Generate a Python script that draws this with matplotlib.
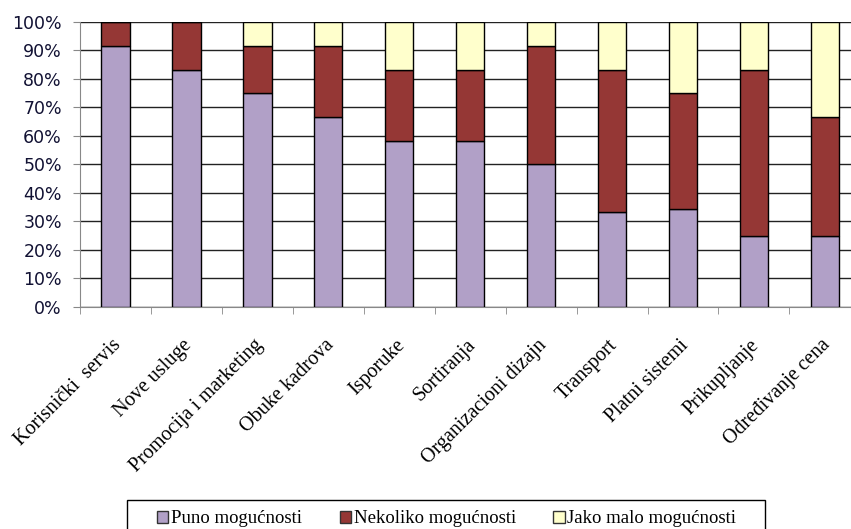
import matplotlib.pyplot as plt
import matplotlib.transforms as mtransforms
from matplotlib.patches import Rectangle
import numpy as np

kategorije = ["Korisnički  servis", "Nove usluge", "Promocija i marketing", "Obuke kadrova",
              "Isporuke", "Sortiranja", "Organizacioni dizajn", "Transport",
              "Platni sistemi", "Prikupljanje", "Određivanje cena"]
puno = [91.7, 83.3, 75.0, 66.7, 58.3, 58.3, 50.0, 33.3, 34.3, 25.0, 25.0]
nekoliko = [8.3, 16.7, 16.7, 25.0, 25.0, 25.0, 41.7, 50.0, 40.7, 58.3, 41.7]
jako_malo = [0.0, 0.0, 8.3, 8.3, 16.7, 16.7, 8.3, 16.7, 25.0, 16.7, 33.3]
serije = ["Puno mogućnosti", "Nekoliko mogućnosti", "Jako malo mogućnosti"]
boje = ["#B1A0C7", "#953735", "#FFFFCC"]

fig = plt.figure(figsize=(8.51, 5.29), dpi=100)
ax = fig.add_axes([0.094, 0.42, 0.917, 0.5385])

x = np.arange(len(kategorije))
dno = np.zeros(len(kategorije))
for vrednosti, naziv, boja in zip([puno, nekoliko, jako_malo], serije, boje):
    ax.bar(x, vrednosti, width=0.4, bottom=dno, color=boja, edgecolor="black",
           linewidth=1, label=naziv, zorder=3)
    dno += np.array(vrednosti)

ax.set_xlim(-0.5, len(kategorije) - 0.5)
ax.set_ylim(0, 100)
ax.set_yticks(np.arange(0, 101, 10))
ax.set_yticklabels([f"{v}%" for v in range(0, 101, 10)], fontsize=12.5, color="#111133")
ax.yaxis.grid(True, color="#222222", linewidth=1, zorder=0)
ax.set_axisbelow(True)

# nazivi kategorija kao rotirani tekst ispod ose
ax.set_xticks(x, labels=[""] * len(x))
pomak = mtransforms.ScaledTranslation(-0.04, -0.29, fig.dpi_scale_trans)
for xi, naziv in zip(x, kategorije):
    ax.text(xi, 0, naziv, transform=ax.get_xaxis_transform() + pomak,
            rotation=45, ha="right", va="top", rotation_mode="anchor",
            fontsize=14.5, family="Liberation Serif")
ax.set_xticks(np.arange(-0.5, len(kategorije)), minor=True)
ax.tick_params(axis="x", which="major", length=0)
ax.tick_params(axis="x", which="minor", length=5, color="#888888")
ax.tick_params(axis="y", length=5, color="#888888", pad=8)

for s in ["top", "right"]:
    ax.spines[s].set_visible(False)
for s in ["left", "bottom"]:
    ax.spines[s].set_color("#888888")

leg = fig.legend(loc="lower center", bbox_to_anchor=(0.525, -0.025), ncol=3,
                 prop={"family": "Liberation Serif", "size": 13.5}, frameon=False,
                 handlelength=0.6, handleheight=0.6,
                 handletextpad=0.15, columnspacing=2.0, borderpad=0.3)
for h in leg.legend_handles:
    h.set_edgecolor("#333333")

# okvir legende
fig.patches.append(Rectangle((126.5 / 851, -0.05), (765 - 126.5) / 851, 0.05 + (529 - 499.5) / 529,
                             transform=fig.transFigure, fill=False, edgecolor="black",
                             linewidth=1))

fig.savefig("out.png", dpi=100)
